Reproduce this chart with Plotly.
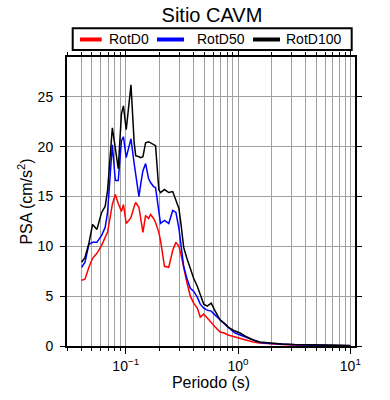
import plotly.graph_objects as go

periods = [0.0405, 0.0434, 0.047, 0.0507, 0.0554, 0.061, 0.0656, 0.0689, 0.076, 0.0808,
           0.0858, 0.0916, 0.0954, 0.101, 0.1063, 0.1114, 0.1189, 0.1226, 0.1311, 0.1358,
           0.1423, 0.1503, 0.1597, 0.1664, 0.1769, 0.1843, 0.1971, 0.204, 0.2214, 0.2416,
           0.2622, 0.2798, 0.2975, 0.3099, 0.3281, 0.3502, 0.376, 0.4023, 0.4338, 0.461,
           0.4951, 0.5318, 0.5769, 0.6258, 0.693, 0.7516, 0.8155, 0.9408, 1.0416, 1.2013,
           1.358, 1.565, 1.96, 2.45, 3.19, 4.33, 5.89, 8.0, 10.0]

rotd100 = [8.4, 8.9, 10.3, 12.2, 11.7, 13.4, 14.0, 15.6, 21.9, 19.9,
           17.8, 23.3, 24.1, 21.7, 24.4, 26.2, 20.4, 19.1, 19.0, 18.9,
           19.0, 20.4, 20.5, 20.4, 20.2, 20.1, 15.7, 15.4, 15.7, 15.4,
           15.5, 14.7, 13.8, 12.3, 9.9, 8.8, 7.8, 6.8, 6.0, 5.2,
           4.2, 4.0, 4.3, 3.5, 2.6, 2.3, 1.9, 1.5, 1.3, 0.9,
           0.6, 0.4, 0.28, 0.2, 0.14, 0.1, 0.07, 0.05, 0.04]

rotd50 = [7.9, 8.4, 10.2, 10.4, 10.4, 11.1, 11.9, 13.4, 20.2, 16.6,
          16.6, 20.6, 21.0, 18.9, 19.9, 20.8, 18.3, 17.4, 15.0, 16.2,
          17.6, 18.3, 16.8, 16.4, 16.0, 15.9, 13.3, 12.3, 12.6, 12.3,
          13.6, 13.4, 11.8, 10.2, 8.0, 6.8, 5.8, 5.5, 4.9, 4.2,
          3.8, 3.6, 3.5, 3.1, 2.6, 2.2, 1.9, 1.3, 1.1, 0.8,
          0.55, 0.35, 0.25, 0.18, 0.12, 0.09, 0.06, 0.045, 0.035]

rotd0 = [6.6, 6.7, 7.9, 8.8, 9.3, 10.1, 10.9, 11.4, 14.2, 15.2,
         14.3, 13.5, 14.2, 12.3, 12.6, 12.9, 14.0, 14.4, 13.9, 12.8,
         11.4, 13.1, 12.8, 13.2, 12.8, 12.4, 11.4, 10.6, 8.0, 7.9,
         9.6, 10.4, 10.0, 9.2, 7.8, 6.4, 5.0, 4.3, 3.8, 2.9,
         3.2, 2.8, 2.3, 1.9, 1.4, 1.3, 1.1, 0.9, 0.7, 0.5,
         0.4, 0.3, 0.2, 0.15, 0.1, 0.07, 0.05, 0.04, 0.03]

series_names = ["RotD0", "RotD50", "RotD100"]
series_values = [rotd0, rotd50, rotd100]
series_colors = ["#ff0000", "#0000ff", "#000000"]

x_major = [0.1, 1, 10]
x_major_text = ["10<sup>\u22121</sup>", "10<sup>0</sup>", "10<sup>1</sup>"]
x_minor = [m * d for d in (0.01, 0.1, 1) for m in range(2, 10) if 0.03 <= m * d <= 11]

FONT = "Liberation Sans, Arial, Helvetica, sans-serif"

# legend layout (paper coordinates, GMT-style boxed legend above the frame)
LEG_BOX = (0.0198, 1.0242, 0.9885, 1.0993)
LEG_Y = 1.0606
LEG_SWATCH = [(0.0451, 0.1205), (0.3125, 0.4063), (0.6458, 0.7396)]
LEG_TEXT_X = [0.1389, 0.4444, 0.7535]

fig = go.Figure()
for name, vals, col in zip(series_names, series_values, series_colors):
    fig.add_trace(go.Scatter(x=periods, y=vals, mode="lines", name=name,
                             line=dict(color=col, width=1.5), showlegend=False,
                             hoverinfo="skip"))

shapes = [dict(type="rect", xref="paper", yref="paper",
               x0=LEG_BOX[0], y0=LEG_BOX[1], x1=LEG_BOX[2], y1=LEG_BOX[3],
               line=dict(color="black", width=2), fillcolor="white", layer="above")]
annotations = []
for name, col, (sx0, sx1), tx in zip(series_names, series_colors, LEG_SWATCH, LEG_TEXT_X):
    shapes.append(dict(type="line", xref="paper", yref="paper",
                       x0=sx0, x1=sx1, y0=LEG_Y, y1=LEG_Y,
                       line=dict(color=col, width=4), layer="above"))
    annotations.append(dict(text=name, xref="paper", yref="paper", x=tx, y=LEG_Y,
                            xanchor="left", yanchor="middle", showarrow=False,
                            font=dict(size=14, family=FONT, color="black")))

fig.update_layout(
    width=390, height=400,
    margin=dict(l=67, r=35, t=57, b=54, autoexpand=False),
    paper_bgcolor="white", plot_bgcolor="white",
    font=dict(family=FONT, size=14, color="black"),
    title=dict(text="Sitio CAVM", x=0.5435, xanchor="center", y=0.962, yanchor="middle",
               font=dict(size=20, family=FONT, color="black")),
    showlegend=False,
    shapes=shapes,
    annotations=annotations,
)

fig.update_xaxes(
    type="log", range=[-1.5229, 1.0414], automargin=False,
    tickmode="array", tickvals=x_major, ticktext=x_major_text,
    ticks="outside", ticklen=6, tickwidth=1, tickcolor="black",
    showline=True, linewidth=2, linecolor="black", mirror="allticks",
    showgrid=True, gridcolor="#a0a0a0", gridwidth=1,
    minor=dict(tickmode="array", tickvals=x_minor, ticks="outside", ticklen=3,
               tickcolor="black", showgrid=True, gridcolor="#a0a0a0", gridwidth=1),
    title=dict(text="Periodo (s)", font=dict(size=16, family=FONT), standoff=4),
    tickfont=dict(size=14, family=FONT), zeroline=False,
)
fig.update_yaxes(
    range=[0, 29], tickmode="linear", tick0=0, dtick=5, automargin=False,
    ticks="outside", ticklen=5, tickwidth=1, tickcolor="black",
    showline=True, linewidth=2, linecolor="black", mirror="allticks",
    showgrid=True, gridcolor="#a0a0a0", gridwidth=1, zeroline=False,
    ticklabelstandoff=4,
    title=dict(text="PSA (cm/s<sup>2</sup>)", font=dict(size=16, family=FONT), standoff=1),
    tickfont=dict(size=14, family=FONT),
)

fig.write_html("out.html", config={"displayModeBar": False, "staticPlot": True},
               post_script="document.body.style.margin='0';document.body.style.overflow='hidden';")
